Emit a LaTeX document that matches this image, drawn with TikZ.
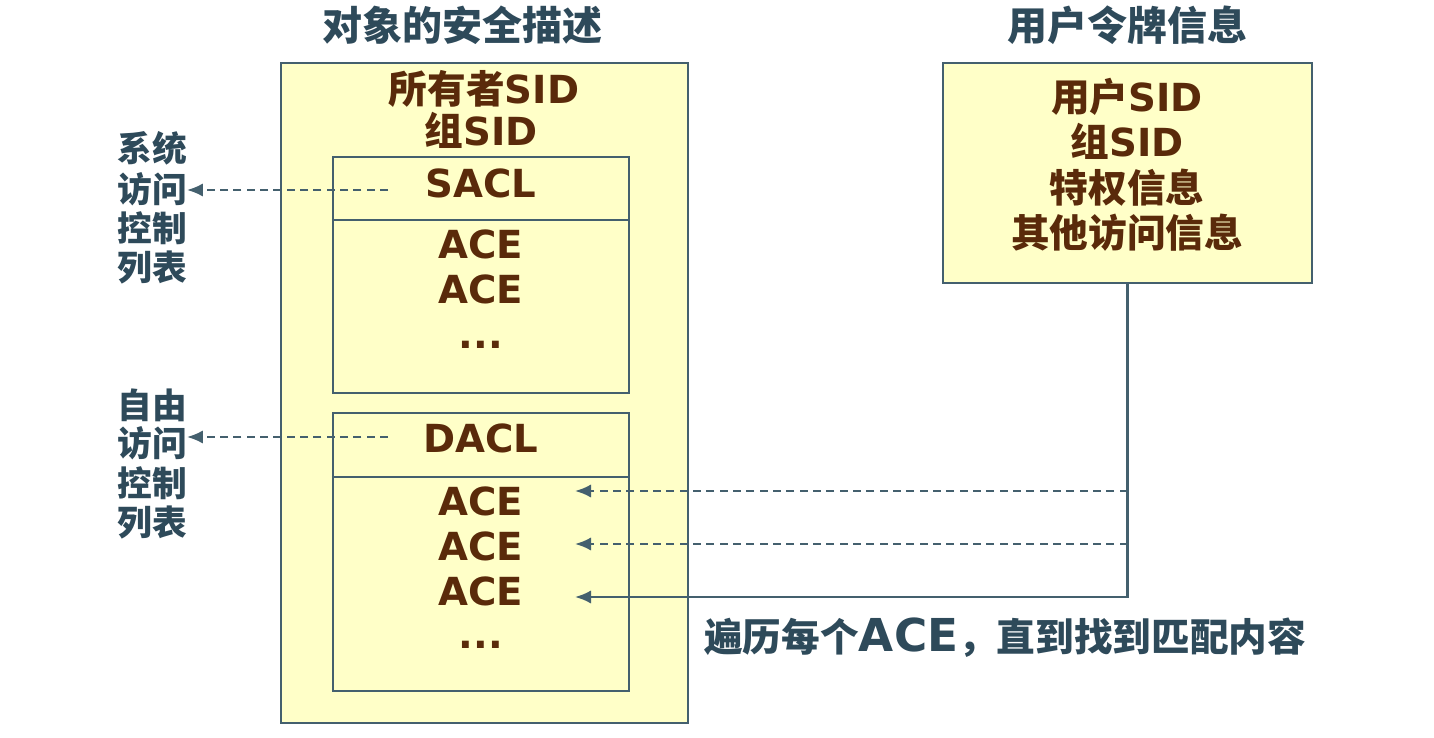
\documentclass[tikz,border=0pt]{standalone}
\usepackage{fontspec}
\setmainfont{DejaVu Sans}
\newfontfamily\cjk{Noto Sans CJK SC}
\usetikzlibrary{arrows.meta,fit}
\definecolor{fillY}{HTML}{FFFFC8}
\definecolor{edgeC}{HTML}{44606E}
\definecolor{brownT}{HTML}{5A2A0A}
\definecolor{slateT}{HTML}{2E4A5A}
\begin{document}
\begin{tikzpicture}[x=0.75pt,y=-0.75pt,
  boxc/.style={draw=edgeC, line width=1.8pt, fill=fillY, inner sep=0pt},
  edge/.style={draw=edgeC, line width=1.8pt},
  arr/.style={edge, -{Latex[length=12pt,width=10pt]}},
  dsh/.style={dash pattern=on 6pt off 4pt},
  btxt/.style={text=brownT, inner sep=0pt, font=\fontsize{29}{34}\selectfont\bfseries, text height=25.5pt, text depth=3.5pt},
  ttl/.style={text=slateT, inner sep=0pt, font=\fontsize{30}{36}\selectfont\bfseries\cjk, text height=26.4pt, text depth=3.6pt},
  lbl/.style={text=slateT, inner sep=0pt, font=\fontsize{26}{31}\selectfont\bfseries\cjk, text height=22.9pt, text depth=3.1pt},
  dots/.style={text=brownT, inner sep=0pt, font=\fontsize{29}{34}\selectfont\bfseries, anchor=base}
]
\useasboundingbox (0,0) rectangle (1434,738);

% boxes
\node[boxc, fit={(281,63) (688,723)}] (outer) {};
\node[boxc, fit={(333,157) (629,393)}] (sacl) {};
\node[boxc, fit={(333,413) (629,691)}] (dacl) {};
\node[boxc, fit={(943,63) (1312,283)}] (tok) {};
\draw[edge] (sacl.west |- {(0,220)}) -- (sacl.east |- {(0,220)});
\draw[edge] (dacl.west |- {(0,477)}) -- (dacl.east |- {(0,477)});

% titles
\node[ttl] (t1) at (462,25) {对象的安全描述};
\node[ttl] (t2) at (1127,25) {用户令牌信息};

% outer box text
\node[btxt] (own) at (484,89) {{\cjk 所有者}SID};
\node[btxt] (grp) at (481,131) {{\cjk 组}SID};
\node[btxt] (saclh) at (481,183) {SACL};
\node[btxt] (sa1) at (481,244) {ACE};
\node[btxt] (sa2) at (481,289) {ACE};
\node[dots] (sad) at (481,348) {...};
\node[btxt] (daclh) at (481,438) {DACL};
\node[btxt] (da1) at (481,501) {ACE};
\node[btxt] (da2) at (481,546) {ACE};
\node[btxt] (da3) at (481,591) {ACE};
\node[dots] (dad) at (481,648) {...};

% token box text
\node[btxt] (u1) at (1127,97) {{\cjk 用户}SID};
\node[btxt] (u2) at (1127,142) {{\cjk 组}SID};
\node[btxt] (u3) at (1127,188) {\cjk 特权信息};
\node[btxt] (u4) at (1127,233) {\cjk 其他访问信息};

% left labels
\node[lbl] (s1) at (152,148) {系统};
\node[lbl] (s2) at (152,189) {访问};
\node[lbl] (s3) at (152,228) {控制};
\node[lbl] (s4) at (152,267) {列表};
\node[lbl] (d1) at (152,405) {自由};
\node[lbl] (d2) at (152,443) {访问};
\node[lbl] (d3) at (152,483) {控制};
\node[lbl] (d4) at (152,522) {列表};

% bottom label
\node[text=slateT, inner sep=0pt, anchor=west, font=\fontsize{29}{34}\selectfont\bfseries, text height=25.5pt, text depth=3.5pt] (note) at (704,637)
  {{\cjk 遍历每个}{\fontsize{34}{40}\selectfont ACE}{\cjk ，直到找到匹配内容}};

% coordinates
\coordinate (sa) at (388,190);
\coordinate (da) at (388,437);
\coordinate (r1) at (575,491);
\coordinate (r2) at (575,544);
\coordinate (r3) at (575,597);

% connectors
\draw[arr, dsh] (sa) -- (s2.east |- sa);
\draw[arr, dsh] (da) -- (d2.east |- da);
\draw[arr] (tok.south) -- (tok.south |- r3) -- (r3);
\draw[arr, dsh] (tok.south |- r1) -- (r1);
\draw[arr, dsh] (tok.south |- r2) -- (r2);
\end{tikzpicture}
\end{document}
